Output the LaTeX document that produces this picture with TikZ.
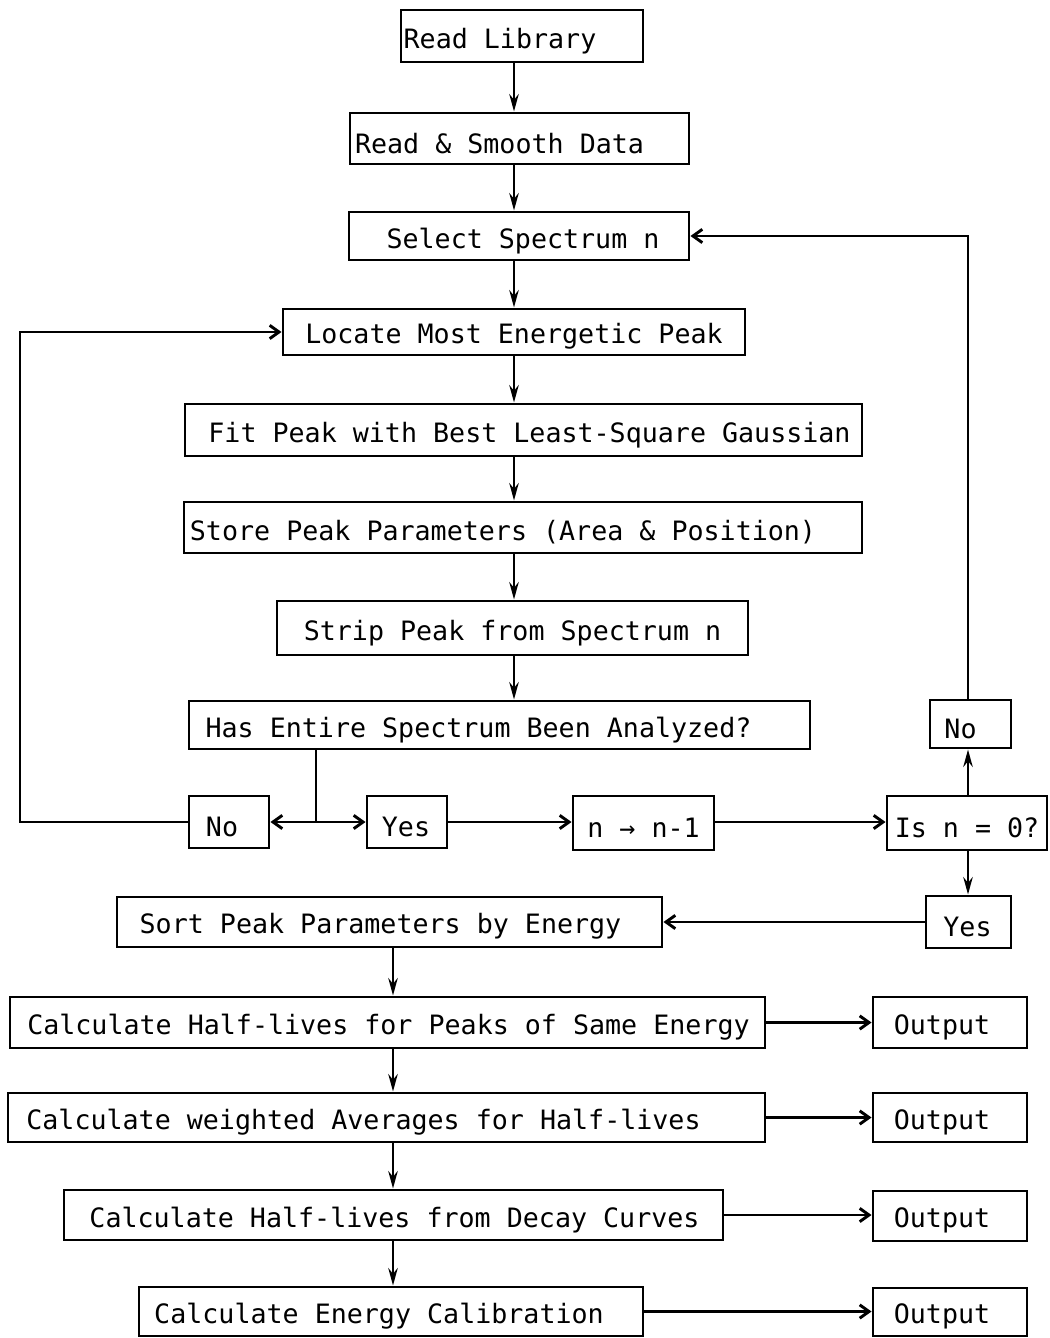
\documentclass[tikz,border=0pt]{standalone}
\usepackage{fontspec}
\newfontfamily\tw{DejaVu Sans Mono}
\usetikzlibrary{arrows.meta}
\newcommand\lblfont{\tw\fontsize{20}{24}\selectfont}
\tikzset{
  box/.style={draw, line width=2.2pt, inner sep=0pt},
  ln/.style={line width=2.2pt},
  varr/.style={line width=2.2pt, -{Stealth[length=13pt,width=7pt]}},
  harr/.style={line width=2.2pt, -{Straight Barb[length=7pt,width=10pt]}}
}
\newcommand\mkbox[7]{\node[box, minimum width={(#4-#2)*0.75pt}, minimum height={(#5-#3)*0.75pt},
  label={[font=\lblfont, inner sep=0pt, xshift={#7*0.75pt}, yshift=-3.5pt]center:{#6}}]
  (#1) at ({(#2+#4)/2},{(#3+#5)/2}) {};}
\begin{document}
\begin{tikzpicture}[x=0.75pt,y=-0.75pt]
\useasboundingbox (0,0) rectangle (1049,1338);
\mkbox{b1}{401}{10}{643}{62}{Read Library}{-22}
\mkbox{b2}{350}{113}{689}{164}{Read \& Smooth Data}{-20}
\mkbox{b3}{349}{212}{689}{260}{Select Spectrum n}{4}
\mkbox{b4}{283}{309}{745}{355}{Locate Most Energetic Peak}{0}
\mkbox{b5}{185}{404}{862}{456}{Fit Peak with Best Least-Square Gaussian}{6}
\mkbox{b6}{184}{502}{862}{553}{Store Peak Parameters (Area \& Position)}{-20}
\mkbox{b7}{277}{601}{748}{655}{Strip Peak from Spectrum n}{0}
\mkbox{b8}{189}{701}{810}{749}{Has Entire Spectrum Been Analyzed?}{-21}
\mkbox{no1}{189}{796}{269}{848}{No}{-7}
\mkbox{yes1}{367}{796}{447}{848}{Yes}{-1}
\mkbox{nn}{573}{796}{714}{850}{n → n-1}{0}
\mkbox{isn}{887}{796}{1047}{850}{Is n = 0?}{0}
\mkbox{no2}{930}{700}{1011}{748}{No}{-10}
\mkbox{yes2}{926}{896}{1011}{948}{Yes}{-1}
\mkbox{b15}{117}{897}{662}{947}{Sort Peak Parameters by Energy}{-9}
\mkbox{b16}{10}{997}{765}{1048}{Calculate Half-lives for Peaks of Same Energy}{1}
\mkbox{b17}{8}{1093}{765}{1142}{Calculate weighted Averages for Half-lives}{-23}
\mkbox{b18}{64}{1190}{723}{1240}{Calculate Half-lives from Decay Curves}{1}
\mkbox{b19}{139}{1287}{643}{1336}{Calculate Energy Calibration}{-12}
\mkbox{o1}{873}{997}{1027}{1048}{Output}{-8}
\mkbox{o2}{873}{1093}{1027}{1142}{Output}{-8}
\mkbox{o3}{873}{1191}{1027}{1241}{Output}{-8}
\mkbox{o4}{873}{1288}{1027}{1336}{Output}{-8}
% main spine
\coordinate (s1) at (514,0);
\draw[varr] (b1.south -| s1) -- (b2.north -| s1);
\draw[varr] (b2.south -| s1) -- (b3.north -| s1);
\draw[varr] (b3.south -| s1) -- (b4.north -| s1);
\draw[varr] (b4.south -| s1) -- (b5.north -| s1);
\draw[varr] (b5.south -| s1) -- (b6.north -| s1);
\draw[varr] (b6.south -| s1) -- (b7.north -| s1);
\draw[varr] (b7.south -| s1) -- (b8.north -| s1);
% decision split
\coordinate (j) at (316,822);
\draw[ln] (b8.south -| j) -- (j);
\draw[harr] (j) -- (no1.east |- j);
\draw[harr] (j) -- (yes1.west |- j);
\coordinate (lft) at (20,0);
\draw[harr] (no1.west |- j) -| (lft |- b4.west) -- (b4.west);
\draw[harr] (yes1.east |- j) -- (nn.west |- j);
\draw[harr] (nn.east |- j) -- (isn.west |- j);
% right loop
\coordinate (rx) at (968,0);
\draw[varr] (isn.north -| rx) -- (no2.south -| rx);
\draw[harr] (no2.north -| rx) |- (b3.east);
\draw[varr] (isn.south -| rx) -- (yes2.north -| rx);
\draw[harr] (yes2.west) -- (b15.east |- yes2.west);
% lower spine
\coordinate (s2) at (393,0);
\draw[varr] (b15.south -| s2) -- (b16.north -| s2);
\draw[varr] (b16.south -| s2) -- (b17.north -| s2);
\draw[varr] (b17.south -| s2) -- (b18.north -| s2);
\draw[varr] (b18.south -| s2) -- (b19.north -| s2);
% outputs
\draw[harr] (b16.east) -- (o1.west |- b16.east);
\draw[harr] (b17.east) -- (o2.west |- b17.east);
\draw[harr] (b18.east) -- (o3.west |- b18.east);
\draw[harr] (b19.east) -- (o4.west |- b19.east);
\end{tikzpicture}
\end{document}
